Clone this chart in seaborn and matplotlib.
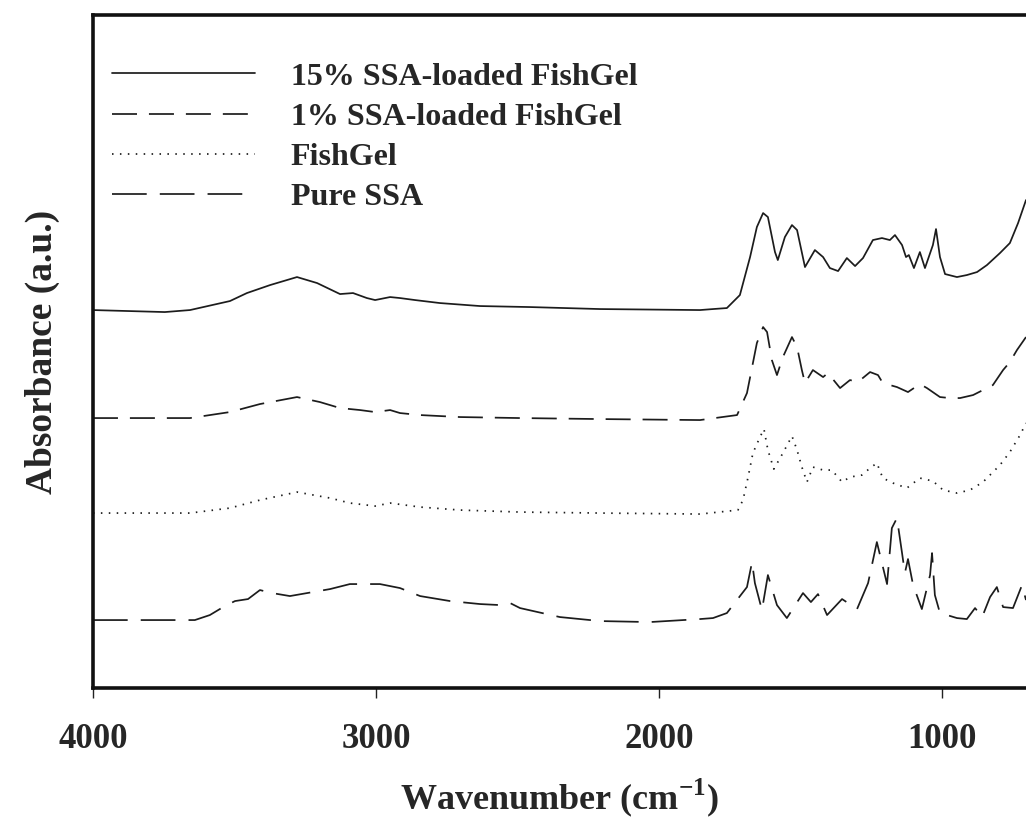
import matplotlib
matplotlib.use("Agg")
import matplotlib.pyplot as plt
import numpy as np
import pandas as pd
import seaborn as sns

# FTIR spectra (wavenumber in cm^-1, absorbance relative to each baseline)
wn_15 = [4000, 3746, 3657, 3516, 3456, 3374, 3279, 3208, 3127, 3081, 3032, 3003,
         2950, 2915, 2862, 2774, 2632, 2456, 2208, 1855, 1809, 1760, 1714, 1678,
         1654, 1632, 1615, 1590, 1580, 1555, 1530, 1512, 1484, 1449, 1420, 1396,
         1367, 1336, 1307, 1279, 1244, 1212, 1184, 1166, 1141, 1127, 1117, 1099,
         1078, 1060, 1032, 1021, 1007, 989, 947, 912, 876, 841, 795, 760, 731, 703]
abs_15 = [0.00, -0.02, 0.00, 0.09, 0.17, 0.25, 0.33, 0.27, 0.16, 0.17, 0.12, 0.10,
          0.13, 0.12, 0.10, 0.07, 0.04, 0.03, 0.01, 0.00, 0.01, 0.02, 0.15, 0.53,
          0.83, 0.97, 0.93, 0.58, 0.50, 0.73, 0.85, 0.80, 0.43, 0.60, 0.53, 0.42,
          0.39, 0.52, 0.44, 0.52, 0.70, 0.72, 0.70, 0.75, 0.65, 0.53, 0.55, 0.42,
          0.58, 0.42, 0.65, 0.81, 0.53, 0.36, 0.33, 0.35, 0.38, 0.45, 0.57, 0.67, 0.87, 1.10]

wn_1 = [4000, 3657, 3516, 3410, 3279, 3198, 3127, 3056, 3003, 2950, 2915, 2844,
        2703, 2491, 2208, 1855, 1724, 1689, 1654, 1632, 1618, 1601, 1583, 1562,
        1530, 1512, 1495, 1484, 1456, 1420, 1403, 1360, 1325, 1297, 1254, 1226,
        1209, 1159, 1120, 1078, 1053, 1007, 972, 936, 890, 855, 820, 784, 760, 735, 703]
abs_1 = [0.00, 0.00, 0.06, 0.14, 0.21, 0.16, 0.10, 0.08, 0.06, 0.08, 0.05, 0.03,
         0.01, 0.00, -0.01, -0.02, 0.03, 0.25, 0.75, 0.91, 0.86, 0.58, 0.43, 0.61,
         0.81, 0.71, 0.48, 0.35, 0.48, 0.41, 0.45, 0.30, 0.38, 0.36, 0.46, 0.43,
         0.35, 0.31, 0.26, 0.34, 0.30, 0.21, 0.20, 0.20, 0.23, 0.28, 0.33, 0.48, 0.56, 0.68, 0.81]

wn_fg = [4000, 3657, 3516, 3410, 3279, 3162, 3092, 3003, 2950, 2844, 2703, 2491,
         2208, 1855, 1721, 1703, 1685, 1668, 1643, 1629, 1615, 1594, 1562, 1530,
         1512, 1495, 1477, 1456, 1420, 1389, 1353, 1325, 1283, 1254, 1230, 1209,
         1173, 1124, 1078, 1032, 996, 947, 901, 855, 795, 760, 724, 703]
abs_fg = [0.00, 0.00, 0.05, 0.13, 0.21, 0.15, 0.10, 0.07, 0.10, 0.06, 0.03, 0.01,
          0.00, -0.01, 0.03, 0.13, 0.36, 0.60, 0.76, 0.84, 0.63, 0.44, 0.60, 0.77,
          0.63, 0.46, 0.31, 0.46, 0.43, 0.43, 0.31, 0.36, 0.38, 0.45, 0.50, 0.35,
          0.30, 0.25, 0.35, 0.32, 0.23, 0.20, 0.23, 0.31, 0.48, 0.61, 0.78, 0.90]

wn_ssa = [4000, 3640, 3587, 3534, 3498, 3452, 3410, 3367, 3304, 3162, 3092, 2986,
          2915, 2844, 2738, 2632, 2562, 2526, 2491, 2350, 2208, 2032, 1855, 1809,
          1760, 1689, 1671, 1661, 1636, 1615, 1583, 1548, 1491, 1463, 1438, 1406,
          1353, 1300, 1261, 1230, 1194, 1177, 1159, 1141, 1131, 1120, 1102, 1071,
          1042, 1035, 1025, 1007, 982, 947, 912, 883, 858, 830, 806, 784, 749, 717, 703]
abs_ssa = [0.00, 0.00, 0.05, 0.14, 0.19, 0.21, 0.30, 0.27, 0.24, 0.31, 0.36, 0.36,
           0.32, 0.24, 0.19, 0.16, 0.15, 0.17, 0.12, 0.03, -0.01, -0.02, 0.01, 0.02,
           0.07, 0.33, 0.58, 0.37, 0.10, 0.45, 0.15, 0.02, 0.27, 0.18, 0.26, 0.05,
           0.21, 0.11, 0.37, 0.78, 0.36, 0.92, 1.02, 0.67, 0.47, 0.61, 0.35, 0.11,
           0.45, 0.67, 0.25, 0.07, 0.05, 0.02, 0.01, 0.12, 0.03, 0.23, 0.33, 0.13, 0.12, 0.35, 0.20]

labels = ["15% SSA-loaded FishGel", "1% SSA-loaded FishGel", "FishGel", "Pure SSA"]
offsets = [3.78, 2.70, 1.75, 0.68]

frames = []
for name, wn, ab, off in zip(labels, [wn_15, wn_1, wn_fg, wn_ssa],
                             [abs_15, abs_1, abs_fg, abs_ssa], offsets):
    frames.append(pd.DataFrame({"wavenumber": wn,
                                "absorbance": np.asarray(ab) + off,
                                "sample": name}))
df = pd.concat(frames, ignore_index=True)

sns.set_theme(style="white")
plt.rcParams["font.family"] = ["Liberation Serif", "DejaVu Serif"]
plt.rcParams["font.weight"] = "bold"
plt.rcParams["mathtext.fontset"] = "custom"
plt.rcParams["mathtext.rm"] = "Liberation Serif:bold"
plt.rcParams["mathtext.bf"] = "Liberation Serif:bold"
plt.rcParams["lines.scale_dashes"] = False

styles = {
    "15% SSA-loaded FishGel": "-",
    "1% SSA-loaded FishGel": (0, (18, 8.6)),
    "FishGel": (0, (1.1, 4.6)),
    "Pure SSA": (0, (25, 9.4)),
}

fig = plt.figure(figsize=(10.26, 8.27), dpi=100)
ax = fig.add_axes([0.0906, 0.168, 0.9094, 0.8138])

for name in labels:
    sub = df[df["sample"] == name]
    sns.lineplot(data=sub, x="wavenumber", y="absorbance", ax=ax,
                 color="#1c1c1c", lw=1.25, linestyle=styles[name],
                 estimator=None, sort=False, label=name)

ax.set_xlim(4000, 703)
ax.set_ylim(0, 6.73)
ax.set_xticks([4000, 3000, 2000, 1000])
ax.set_xticklabels(["4000", "3000", "2000", "1000"], fontsize=25, fontweight="bold")
ax.set_yticks([])
ax.tick_params(axis="x", direction="out", length=7, width=1.0, color="#222222",
               pad=18, bottom=True)

for side in ["left", "bottom", "top"]:
    ax.spines[side].set_linewidth(2.6)
    ax.spines[side].set_color("#111111")
ax.spines["right"].set_visible(False)

ax.set_xlabel("Wavenumber (cm$^{\\mathbf{-1}}$)", fontsize=26, fontweight="bold", labelpad=15)
ax.set_ylabel("Absorbance (a.u.)", fontsize=27, fontweight="bold", labelpad=24)

leg = ax.legend(loc="upper left", bbox_to_anchor=(0.02, 0.93), frameon=False,
                fontsize=23, handlelength=4.5, handletextpad=1.1,
                labelspacing=0.34, borderaxespad=0, borderpad=0)
for t in leg.get_texts():
    t.set_fontweight("bold")

fig.savefig("out.png", dpi=100, facecolor="white")
